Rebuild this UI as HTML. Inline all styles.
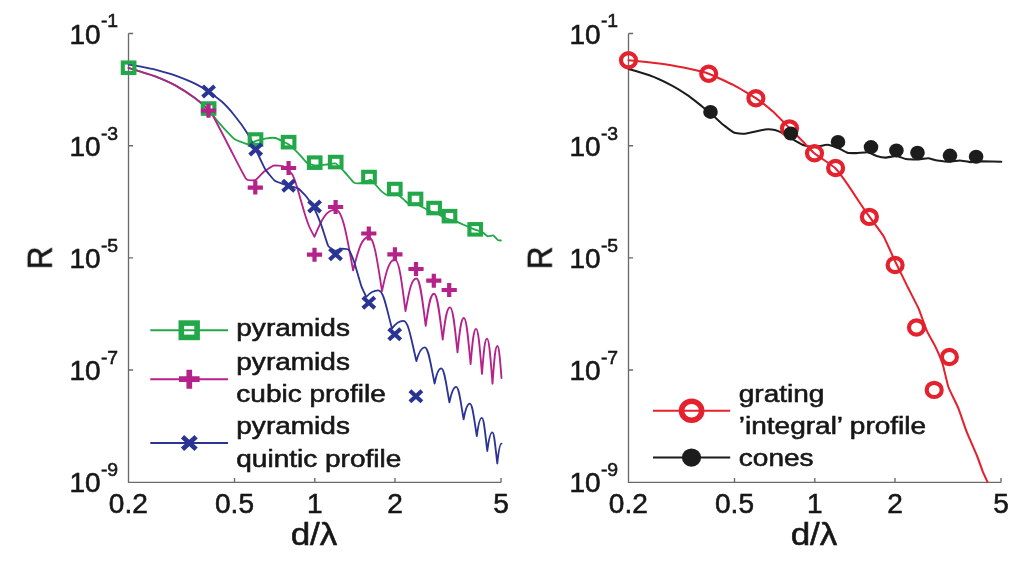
<!DOCTYPE html>
<html lang="en"><head><meta charset="utf-8"><title>Reflectance vs d/λ</title>
<style>
html,body{margin:0;padding:0;background:#fff;}
svg{display:block;}
text{font-family:"Liberation Sans",sans-serif;fill:#151515;stroke:#151515;stroke-width:0.55px;}
</style></head>
<body>
<svg width="1024" height="561" viewBox="0 0 1024 561">
<rect width="1024" height="561" fill="#ffffff"/>
<defs><filter id="soft" x="0" y="0" width="1024" height="561" filterUnits="userSpaceOnUse"><feGaussianBlur stdDeviation="0.45"/></filter></defs>
<g filter="url(#soft)">
<path d="M128.5,33.5 V482.4 H501 M128.5,33.5 h4.6 M128.5,145.7 h4.6 M128.5,257.9 h4.6 M128.5,370 h4.6 M234.5,482.4 v-4.4 M314.8,482.4 v-4.4 M395,482.4 v-4.4 M501,482.4 v-4.4" fill="none" stroke="#6a6a6a" stroke-width="1.35"/>
<text transform="translate(69.4,43.5) scale(1.02,1)" font-size="27.5" text-anchor="start">10</text>
<text transform="translate(100.9,27.4) scale(1.02,1)" font-size="19" text-anchor="start">-1</text>
<text transform="translate(69.4,155.7) scale(1.02,1)" font-size="27.5" text-anchor="start">10</text>
<text transform="translate(100.9,139.6) scale(1.02,1)" font-size="19" text-anchor="start">-3</text>
<text transform="translate(69.4,267.9) scale(1.02,1)" font-size="27.5" text-anchor="start">10</text>
<text transform="translate(100.9,251.8) scale(1.02,1)" font-size="19" text-anchor="start">-5</text>
<text transform="translate(69.4,380) scale(1.02,1)" font-size="27.5" text-anchor="start">10</text>
<text transform="translate(100.9,363.9) scale(1.02,1)" font-size="19" text-anchor="start">-7</text>
<text transform="translate(69.4,492.2) scale(1.02,1)" font-size="27.5" text-anchor="start">10</text>
<text transform="translate(100.9,476.1) scale(1.02,1)" font-size="19" text-anchor="start">-9</text>
<text transform="translate(128.3,513) scale(1.02,1)" font-size="27.5" text-anchor="middle">0.2</text>
<text transform="translate(234.5,513) scale(1.02,1)" font-size="27.5" text-anchor="middle">0.5</text>
<text transform="translate(314.8,513) scale(1.02,1)" font-size="27.5" text-anchor="middle">1</text>
<text transform="translate(395,513) scale(1.02,1)" font-size="27.5" text-anchor="middle">2</text>
<text transform="translate(501,513) scale(1.02,1)" font-size="27.5" text-anchor="middle">5</text>
<text transform="translate(314,545) scale(1.094,1)" font-size="32" text-anchor="middle">d/λ</text>
<text transform="translate(51.8,257.9) scale(1.10,1) rotate(-90)" font-size="31.8" text-anchor="middle">R</text>
<path d="M628.5,33.5 V482.4 H1001 M628.5,33.5 h4.6 M628.5,145.7 h4.6 M628.5,257.9 h4.6 M628.5,370 h4.6 M734.5,482.4 v-4.4 M814.8,482.4 v-4.4 M895,482.4 v-4.4 M1001,482.4 v-4.4" fill="none" stroke="#6a6a6a" stroke-width="1.35"/>
<text transform="translate(569.4,43.5) scale(1.02,1)" font-size="27.5" text-anchor="start">10</text>
<text transform="translate(600.9,27.4) scale(1.02,1)" font-size="19" text-anchor="start">-1</text>
<text transform="translate(569.4,155.7) scale(1.02,1)" font-size="27.5" text-anchor="start">10</text>
<text transform="translate(600.9,139.6) scale(1.02,1)" font-size="19" text-anchor="start">-3</text>
<text transform="translate(569.4,267.9) scale(1.02,1)" font-size="27.5" text-anchor="start">10</text>
<text transform="translate(600.9,251.8) scale(1.02,1)" font-size="19" text-anchor="start">-5</text>
<text transform="translate(569.4,380) scale(1.02,1)" font-size="27.5" text-anchor="start">10</text>
<text transform="translate(600.9,363.9) scale(1.02,1)" font-size="19" text-anchor="start">-7</text>
<text transform="translate(569.4,492.2) scale(1.02,1)" font-size="27.5" text-anchor="start">10</text>
<text transform="translate(600.9,476.1) scale(1.02,1)" font-size="19" text-anchor="start">-9</text>
<text transform="translate(628.3,513) scale(1.02,1)" font-size="27.5" text-anchor="middle">0.2</text>
<text transform="translate(734.5,513) scale(1.02,1)" font-size="27.5" text-anchor="middle">0.5</text>
<text transform="translate(814.8,513) scale(1.02,1)" font-size="27.5" text-anchor="middle">1</text>
<text transform="translate(895,513) scale(1.02,1)" font-size="27.5" text-anchor="middle">2</text>
<text transform="translate(1001,513) scale(1.02,1)" font-size="27.5" text-anchor="middle">5</text>
<text transform="translate(814,545) scale(1.094,1)" font-size="32" text-anchor="middle">d/λ</text>
<text transform="translate(551.8,257.9) scale(1.10,1) rotate(-90)" font-size="31.8" text-anchor="middle">R</text>
<path d="M128.6,67.8 C129.4,68.1 137.7,70.8 139.6,71.4 C141.5,72 152.8,75.3 155.3,76.3 C157.8,77.3 172.2,83.6 174.9,85.1 C177.6,86.6 192.2,96.1 194.5,97.8 C196.8,99.5 207.1,108.4 208.4,109.6 C209.7,110.8 211.9,114.1 213,115.5 C214.1,116.9 223.1,127.5 224.6,129.1 C226.1,130.7 232.8,137.8 234.4,138.9 C236,140 246.2,144.1 247.8,144.2 C249.4,144.3 255.4,141.1 256.7,140.7 C258,140.3 265.2,138.5 266.5,138.3 C267.8,138.1 273.8,137.6 275.4,138 C277,138.4 287.2,143.4 288.8,144.5 C290.4,145.6 297.2,152.1 298.4,153.3 C299.6,154.5 305.2,161.3 306.3,162.2 C307.4,163.1 313.3,165.3 314.7,165.5 C316.1,165.7 324.4,164.8 325.9,164.7 C327.4,164.6 334.3,162.9 335.7,163.5 C337.1,164.1 344.2,171.6 345.5,173 C346.8,174.4 353.1,182.1 354.3,182.8 C355.5,183.5 360.8,183.2 362,183 C363.2,182.8 369.7,179.5 371,180 C372.3,180.5 379.6,189.5 380.8,190.6 C382,191.7 386.4,194.8 387.5,195 C388.6,195.2 395.3,193.8 396.5,194.1 C397.7,194.4 403.3,199.1 404.2,199.9 C405.1,200.7 409.1,204.7 410,205 C410.9,205.3 415.9,204.3 417,204.5 C418.1,204.7 424,208 425,208.5 C426,209 430.2,211.2 431,211.5 C431.8,211.8 436.1,213.1 437,213.5 C437.9,213.9 443.1,217.1 444,217.5 C444.9,217.9 449.2,219.5 450,219.8 C450.8,220.1 455.1,221.2 456,221.5 C456.9,221.8 462,224.1 463,224.5 C464,224.9 469.1,227.1 470,227.5 C470.9,227.9 475.1,229.7 476,230 C476.9,230.3 481.8,231.9 482.6,232.3 C483.4,232.7 487.2,236.2 487.9,236.4 C488.6,236.6 492.6,235.2 493.3,235.5 C494,235.8 497.2,239.7 497.7,240 C498.2,240.3 500.7,240.5 500.9,240.5" fill="none" stroke="#22a84a" stroke-width="1.85" stroke-linejoin="round" stroke-linecap="round"/>
<path d="M128.6,67.8 C129.4,68.1 137.7,70.8 139.6,71.4 C141.5,72 152.8,75.3 155.3,76.3 C157.8,77.3 172.2,83.6 174.9,85.1 C177.6,86.6 192.2,96.1 194.5,97.8 C196.8,99.5 206.9,108.3 208.2,109.6 C209.5,110.9 211.5,113 213,115.7 C214.5,118.4 227.2,143.1 229.5,147.5 C231.8,151.9 244.2,176.5 246,178.8 C247.8,181.1 254.6,180.4 255.8,179.9 C257,179.4 262.6,172.8 263.8,171.8 C265,170.8 272.2,166 273.6,165.6 C275,165.2 282.1,165.8 283.4,166.4 C284.7,167 291.3,172.9 292.3,174.5 C293.3,176.1 296.7,186 297.5,188.6 C298.3,191.2 303.5,209.6 304.3,212.2 C305.1,214.8 308.3,224.3 309,226 C309.7,227.7 314.1,236 314.5,236.7 C322.1,218.3 326.7,209.6 335.5,209.6 C342.2,209.6 346.1,231.5 353.1,270.4 C358.8,247.7 362.2,237 368.8,237 C373.8,237 376.7,256.4 382,291 C386.6,269.6 389.5,259.6 394.9,259.6 C398.9,259.6 401.3,278.2 405.5,311.2 C409.4,289 411.8,278.5 416.4,278.5 C419.9,278.5 422,295.6 425.7,325.9 C428.7,304 430.5,293.7 434,293.7 C437.3,293.7 439.2,310.2 442.7,339.6 C445.3,317.6 446.9,307.3 450,307.3 C452.9,307.3 454.5,323.5 457.5,352.4 C459.8,329 461.2,318 463.9,318 C466.4,318 467.9,334.6 470.6,364.1 C472.6,340.1 473.8,328.8 476.1,328.8 C478.3,328.8 479.6,345 482,373.9 C483.8,349.9 484.9,338.6 487,338.6 C489.1,338.6 490.3,354.8 492.5,383.7 C494.3,358.1 495.3,346 497.4,346 C499,346 499.9,357.5 501.5,378" fill="none" stroke="#b4218a" stroke-width="1.85" stroke-linejoin="round" stroke-linecap="round"/>
<path d="M128.6,64.5 C129.1,64.6 133.8,65.2 135.7,65.6 C137.6,66 152.6,68.9 155.3,69.6 C158,70.3 172.2,74.4 174.9,75.4 C177.6,76.4 192.2,82.3 194.5,83.4 C196.8,84.5 206.3,90.1 208.2,91.4 C210.1,92.7 220.2,100.2 222,101.8 C223.8,103.4 231.9,112.3 233.7,114.5 C235.5,116.7 246,131.1 247.5,133.5 C249,135.9 254.5,146.9 255.7,149.4 C256.9,151.9 263.8,166.8 265.1,169 C266.4,171.2 273.3,179.6 274.9,180.8 C276.5,182 287,185.2 288.6,185.7 C290.2,186.2 297.2,187.8 298.4,188.6 C299.6,189.4 305.2,195.1 306.3,196.5 C307.4,197.9 313,206.2 314.1,208.2 C315.2,210.2 320.4,222.7 321.4,225.3 C322.4,227.9 327.2,244.1 328.2,245.9 C329.2,247.7 334.6,250.6 335.5,250.8 C336.4,251 340.1,248.9 341,248.8 C341.9,248.7 347.9,248.9 348.8,249.8 C349.7,250.7 353.1,259 354,261.5 C354.9,264 360.4,283.5 361.3,286 C362.2,288.5 365.9,296.2 366.2,297 C369.6,293 374.2,290.3 378.3,290.3 C383.5,290.3 386.2,307.2 392,328.6 C395.2,323.9 399.6,320.8 403.5,320.8 C408.4,320.8 411,338.5 416.4,361 C418.7,352.8 421.9,347.3 424.7,347.3 C428.5,347.3 430.4,363.2 434.6,383.5 C436.4,374.4 439,368.4 441.2,368.4 C444.3,368.4 446,383.4 449.4,402.4 C451.3,393.1 453.8,386.9 456.1,386.9 C459,386.9 460.5,401.2 463.6,419.3 C465.3,409.9 467.7,403.6 469.8,403.6 C472.5,403.6 473.9,417.9 476.8,436.1 C478.2,425.1 480.1,417.8 481.8,417.8 C483.9,417.8 485,432.4 487.3,451 C488.7,439.8 490.6,432.3 492.3,432.3 C494.2,432.3 495.2,446 497.3,463.5 C498.5,451.6 500.1,443.6 501.5,443.6" fill="none" stroke="#2c3493" stroke-width="1.85" stroke-linejoin="round" stroke-linecap="round"/>
<rect x="122.8" y="62.5" width="11.6" height="10.5" fill="none" stroke="#22a84a" stroke-width="4.1"/>
<rect x="202.8" y="103.3" width="11.6" height="10.5" fill="none" stroke="#22a84a" stroke-width="4.1"/>
<rect x="249.7" y="134.3" width="11.6" height="10.5" fill="none" stroke="#22a84a" stroke-width="4.1"/>
<rect x="282.8" y="136.9" width="11.6" height="10.5" fill="none" stroke="#22a84a" stroke-width="4.1"/>
<rect x="308.9" y="157.4" width="11.6" height="10.5" fill="none" stroke="#22a84a" stroke-width="4.1"/>
<rect x="329.9" y="156.8" width="11.6" height="10.5" fill="none" stroke="#22a84a" stroke-width="4.1"/>
<rect x="363.2" y="171.8" width="11.6" height="10.5" fill="none" stroke="#22a84a" stroke-width="4.1"/>
<rect x="389" y="183.8" width="11.6" height="10.5" fill="none" stroke="#22a84a" stroke-width="4.1"/>
<rect x="409.7" y="193.7" width="11.6" height="10.5" fill="none" stroke="#22a84a" stroke-width="4.1"/>
<rect x="428.3" y="202.8" width="11.6" height="10.5" fill="none" stroke="#22a84a" stroke-width="4.1"/>
<rect x="443.7" y="210.9" width="11.6" height="10.5" fill="none" stroke="#22a84a" stroke-width="4.1"/>
<rect x="469.4" y="224.1" width="11.6" height="10.5" fill="none" stroke="#22a84a" stroke-width="4.1"/>
<path d="M200.9,110.7 H216.1 M208.5,103.7 V117.7" stroke="#b4218a" stroke-width="4.2" fill="none"/>
<path d="M247.7,187.6 H262.9 M255.3,180.6 V194.6" stroke="#b4218a" stroke-width="4.2" fill="none"/>
<path d="M281,168 H296.2 M288.6,161 V175" stroke="#b4218a" stroke-width="4.2" fill="none"/>
<path d="M306.9,254.7 H322.1 M314.5,247.7 V261.7" stroke="#b4218a" stroke-width="4.2" fill="none"/>
<path d="M328,207 H343.2 M335.6,200 V214" stroke="#b4218a" stroke-width="4.2" fill="none"/>
<path d="M361.2,233.5 H376.4 M368.8,226.5 V240.5" stroke="#b4218a" stroke-width="4.2" fill="none"/>
<path d="M387.3,254.3 H402.5 M394.9,247.3 V261.3" stroke="#b4218a" stroke-width="4.2" fill="none"/>
<path d="M408.4,269 H423.6 M416,262 V276" stroke="#b4218a" stroke-width="4.2" fill="none"/>
<path d="M426.2,280.7 H441.4 M433.8,273.7 V287.7" stroke="#b4218a" stroke-width="4.2" fill="none"/>
<path d="M441.6,290 H456.8 M449.2,283 V297" stroke="#b4218a" stroke-width="4.2" fill="none"/>
<path d="M202.6,85.9 L214.6,96.9 M202.6,96.9 L214.6,85.9" stroke="#2c3493" stroke-width="4.1" fill="none"/>
<path d="M249.7,143.9 L261.7,154.9 M249.7,154.9 L261.7,143.9" stroke="#2c3493" stroke-width="4.1" fill="none"/>
<path d="M282.6,180.2 L294.6,191.2 M282.6,191.2 L294.6,180.2" stroke="#2c3493" stroke-width="4.1" fill="none"/>
<path d="M308.6,201 L320.6,212 M308.6,212 L320.6,201" stroke="#2c3493" stroke-width="4.1" fill="none"/>
<path d="M329.5,248.8 L341.5,259.8 M329.5,259.8 L341.5,248.8" stroke="#2c3493" stroke-width="4.1" fill="none"/>
<path d="M362.8,297.3 L374.8,308.3 M362.8,308.3 L374.8,297.3" stroke="#2c3493" stroke-width="4.1" fill="none"/>
<path d="M388.7,328.8 L400.7,339.8 M388.7,339.8 L400.7,328.8" stroke="#2c3493" stroke-width="4.1" fill="none"/>
<path d="M409.9,390.7 L421.9,401.7 M409.9,401.7 L421.9,390.7" stroke="#2c3493" stroke-width="4.1" fill="none"/>
<path d="M150.3,330.2 H228" stroke="#22a84a" stroke-width="1.85" fill="none"/>
<path d="M150.3,379.2 H228" stroke="#b4218a" stroke-width="1.85" fill="none"/>
<path d="M150.3,443 H228" stroke="#2c3493" stroke-width="1.85" fill="none"/>
<rect x="181.3" y="323.1" width="15.8" height="14.3" fill="none" stroke="#22a84a" stroke-width="5.6"/>
<path d="M179,379.2 H199.6 M189.3,369.7 V388.7" stroke="#b4218a" stroke-width="5.7" fill="none"/>
<path d="M182.5,436.7 L196.1,449.3 M182.5,449.3 L196.1,436.7" stroke="#2c3493" stroke-width="4.7" fill="none"/>
<text transform="translate(236.3,335.8) scale(1.167,1)" font-size="24" text-anchor="start">pyramids</text>
<text transform="translate(236.3,369.5) scale(1.167,1)" font-size="24" text-anchor="start">pyramids</text>
<text transform="translate(236.3,402.3) scale(1.167,1)" font-size="24" text-anchor="start">cubic profile</text>
<text transform="translate(236.3,433.5) scale(1.167,1)" font-size="24" text-anchor="start">pyramids</text>
<text transform="translate(236.3,466.5) scale(1.167,1)" font-size="24" text-anchor="start">quintic profile</text>
<path d="M628.5,69 C630,69.4 646.4,74.2 649.4,75.3 C652.4,76.4 668.3,83.7 671,85.1 C673.7,86.5 686.4,94.4 688.6,95.9 C690.8,97.4 700.6,105.3 702.4,106.7 C704.2,108.1 712.6,115.2 714.1,116.5 C715.6,117.8 722.5,124.2 723.9,125.3 C725.3,126.4 732.2,131.9 733.7,132.5 C735.2,133.1 742.8,134 745,133.8 C747.2,133.6 762.9,129.7 765,129.4 C767.1,129.1 773.7,129.7 775,130 C776.3,130.3 782,132.8 783,133.3 C784,133.8 788.2,136.8 789.6,137.6 C791,138.4 800.8,144.1 802.5,144.8 C804.2,145.5 812,147.1 813.7,147.1 C815.4,147.1 825.5,144.8 827.2,144.8 C828.9,144.8 836.6,147.1 838,147.7 C839.4,148.3 846.1,152.3 847.4,152.7 C848.7,153.1 855,153.1 856.4,153.1 C857.8,153.1 866.2,152 867.6,152.2 C869,152.4 875.3,155.6 876.6,156 C877.9,156.4 884.2,157.6 885.6,157.6 C887,157.6 895.4,155.9 896.8,156 C898.2,156.1 904.4,158.8 905.8,159 C907.2,159.2 915.4,159.4 917,159.4 C918.6,159.4 926.8,158.2 928.2,158.3 C929.6,158.4 935.7,160.3 937.2,160.5 C938.7,160.7 948.4,161.7 950,161.7 C951.6,161.7 958.2,160.5 959.7,160.5 C961.2,160.5 969.3,162.1 970.9,162.1 C972.5,162.1 980.1,161.2 982.2,161.2 C984.3,161.2 1000,161.7 1001.3,161.7" fill="none" stroke="#1d1d1d" stroke-width="2.05" stroke-linejoin="round" stroke-linecap="round"/>
<path d="M628.5,60.2 C630.6,60.4 655.3,63 659.2,63.5 C663.1,64 681.2,67.1 684.7,67.8 C688.2,68.5 705.4,72.5 708.8,73.7 C712.2,74.9 730.4,83.4 733.7,85.1 C737,86.8 753.2,96.3 755.9,98.2 C758.6,100.1 770.6,109.5 772.9,111.6 C775.2,113.7 787.1,125.7 789.2,127.8 C791.3,129.9 800.6,139.2 802.4,141 C804.2,142.8 812,151.3 814.3,153.2 C816.6,155.1 833.1,166 835.4,168.2 C837.7,170.4 845.8,181.8 847.4,184.1 C849,186.4 857.1,198.7 858.6,201 C860.1,203.3 867.7,214.3 869.4,216.7 C871.1,219.1 881.5,232.7 883.3,235.8 C885.1,238.9 893.4,257.8 895.1,261.3 C896.8,264.8 905.4,282.3 907,285.6 C908.6,288.9 917.1,305.2 918.5,308.4 C919.9,311.6 925.8,328.5 927,331.2 C928.2,333.9 934.5,344.8 935.6,347.1 C936.7,349.4 941.8,361.4 942.7,364.2 C943.6,367 947.3,383.9 948.4,387 C949.5,390.1 957.1,405.2 958.4,408.4 C959.7,411.6 965.7,429.4 967,432.7 C968.3,436 975.8,452.8 976.9,455.5 C978,458.2 981.9,469.3 982.6,471.2 C983.3,473.1 987.2,481.2 987.5,482" fill="none" stroke="#e4212e" stroke-width="2.05" stroke-linejoin="round" stroke-linecap="round"/>
<ellipse cx="628.5" cy="60.2" rx="7.5" ry="7.1" fill="none" stroke="#e4212e" stroke-width="4.2"/>
<ellipse cx="708.7" cy="73.8" rx="7.5" ry="7.1" fill="none" stroke="#e4212e" stroke-width="4.2"/>
<ellipse cx="755.9" cy="98.2" rx="7.5" ry="7.1" fill="none" stroke="#e4212e" stroke-width="4.2"/>
<ellipse cx="789.5" cy="128.4" rx="7.5" ry="7.1" fill="none" stroke="#e4212e" stroke-width="4.2"/>
<ellipse cx="814.5" cy="153.3" rx="7.5" ry="7.1" fill="none" stroke="#e4212e" stroke-width="4.2"/>
<ellipse cx="835.6" cy="168" rx="7.5" ry="7.1" fill="none" stroke="#e4212e" stroke-width="4.2"/>
<ellipse cx="869.4" cy="216.9" rx="7.5" ry="7.1" fill="none" stroke="#e4212e" stroke-width="4.2"/>
<ellipse cx="895.1" cy="265" rx="7.5" ry="7.1" fill="none" stroke="#e4212e" stroke-width="4.2"/>
<ellipse cx="916.5" cy="327.5" rx="7.5" ry="7.1" fill="none" stroke="#e4212e" stroke-width="4.2"/>
<ellipse cx="949.4" cy="357" rx="7.5" ry="7.1" fill="none" stroke="#e4212e" stroke-width="4.2"/>
<ellipse cx="934.2" cy="389.9" rx="7.5" ry="7.1" fill="none" stroke="#e4212e" stroke-width="4.2"/>
<ellipse cx="710.5" cy="111.9" rx="7.3" ry="7" fill="#1d1d1d"/>
<ellipse cx="790.8" cy="133.5" rx="7.3" ry="7" fill="#1d1d1d"/>
<ellipse cx="838" cy="141.9" rx="7.3" ry="7" fill="#1d1d1d"/>
<ellipse cx="871" cy="147.1" rx="7.3" ry="7" fill="#1d1d1d"/>
<ellipse cx="896.4" cy="150.4" rx="7.3" ry="7" fill="#1d1d1d"/>
<ellipse cx="917.5" cy="152.7" rx="7.3" ry="7" fill="#1d1d1d"/>
<ellipse cx="950" cy="155.6" rx="7.3" ry="7" fill="#1d1d1d"/>
<ellipse cx="976.1" cy="156.7" rx="7.3" ry="7" fill="#1d1d1d"/>
<path d="M653,410.8 H730.2" stroke="#e4212e" stroke-width="1.9" fill="none"/>
<path d="M653,457.5 H730.2" stroke="#1d1d1d" stroke-width="2.0" fill="none"/>
<ellipse cx="691.6" cy="410.8" rx="10.1" ry="9.5" fill="none" stroke="#e4212e" stroke-width="5.6"/>
<ellipse cx="691.5" cy="457.6" rx="9.6" ry="9.2" fill="#1d1d1d"/>
<text transform="translate(738.8,401.6) scale(1.167,1)" font-size="24" text-anchor="start">grating</text>
<text transform="translate(738.8,433.9) scale(1.167,1)" font-size="24" text-anchor="start">’integral’ profile</text>
<text transform="translate(738.8,466.1) scale(1.167,1)" font-size="24" text-anchor="start">cones</text>
</g>
</svg>
</body></html>
